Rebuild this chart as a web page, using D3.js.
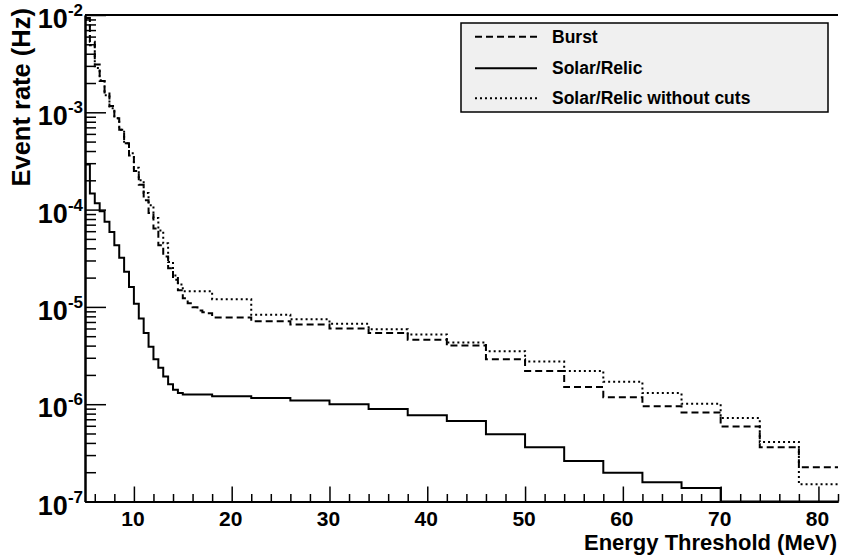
<!DOCTYPE html>
<html><head><meta charset="utf-8">
<script src="https://cdn.jsdelivr.net/npm/d3@7"></script>
<style>body{margin:0;background:#fff}text{font-family:"Liberation Sans",Arial,Helvetica,sans-serif;font-weight:bold;fill:#000}</style>
</head><body><svg id="c" width="841" height="560"></svg>
<script>
// Histogram bin edges (MeV)
const binEdges = [5,5.5,6,6.5,7,7.5,8,8.5,9,9.5,10,10.5,11,11.5,12,12.5,13,13.5,14,14.5,15,15.5,16,16.5,17,17.5,18,
  22,26,30,34,38,42,46,50,54,58,62,66,70,74,78,82];
// Event rates (Hz) per bin
const burst = [9.3e-3,5.3e-3,3.1e-3,2.1e-3,1.6e-3,1.16e-3,8.7e-4,6.6e-4,4.8e-4,3.6e-4,2.5e-4,1.8e-4,1.25e-4,9.2e-5,6.4e-5,4.3e-5,3.3e-5,2.5e-5,1.9e-5,1.48e-5,1.23e-5,1.09e-5,9.9e-6,9.2e-6,8.8e-6,8.6e-6,
  7.8e-6,7.1e-6,6.6e-6,6.0e-6,5.4e-6,4.6e-6,4.0e-6,2.9e-6,2.2e-6,1.5e-6,1.18e-6,9.5e-7,8.2e-7,5.9e-7,3.6e-7,2.25e-7];
const solarRelic = [2.9e-4,1.46e-4,1.16e-4,9.6e-5,7.5e-5,5.9e-5,4.3e-5,3.2e-5,2.3e-5,1.6e-5,1.08e-5,7.6e-6,5.4e-6,3.9e-6,2.9e-6,2.37e-6,1.93e-6,1.6e-6,1.41e-6,1.3e-6,1.26e-6,1.26e-6,1.26e-6,1.26e-6,1.26e-6,1.26e-6,
  1.21e-6,1.16e-6,1.09e-6,1.0e-6,8.9e-7,7.7e-7,6.7e-7,4.9e-7,3.6e-7,2.6e-7,1.97e-7,1.58e-7,1.38e-7,0,0,0];
const solarRelicNoCuts = [8.9e-3,4.9e-3,2.85e-3,2.14e-3,1.5e-3,1.1e-3,8.7e-4,6.6e-4,4.8e-4,3.8e-4,2.7e-4,2.0e-4,1.48e-4,1.11e-4,8.2e-5,6.1e-5,4.5e-5,2.9e-5,2.1e-5,1.7e-5,1.45e-5,1.45e-5,1.45e-5,1.45e-5,1.45e-5,1.45e-5,
  1.2e-5,8.3e-6,7.45e-6,6.7e-6,5.9e-6,5.2e-6,4.3e-6,3.5e-6,2.74e-6,2.19e-6,1.7e-6,1.3e-6,1.01e-6,7.2e-7,4.1e-7,1.5e-7];
const seriesNames = ["Burst","Solar/Relic","Solar/Relic without cuts"];
const xTickValues = [10,20,30,40,50,60,70,80];
const yTickExponents = [-2,-3,-4,-5,-6,-7];
const xTitle = "Energy Threshold (MeV)";
const yTitle = "Event rate (Hz)";

const W = 841, H = 560;
const m = {left:85, right:838, top:15, bottom:501.5};
const x = d3.scaleLinear().domain([5,82]).range([m.left,m.right]);
const y = d3.scaleLog().domain([1e-7,1e-2]).range([m.bottom,m.top]);
const svg = d3.select("#c");
svg.append("rect").attr("width",W).attr("height",H).attr("fill","#fff");
svg.append("clipPath").attr("id","clip").append("rect")
  .attr("x",m.left).attr("y",m.top-1).attr("width",m.right-m.left).attr("height",m.bottom-m.top+1);

function stepPoints(vals){
  const pts = [];
  vals.forEach((v,i)=>{ const vv = Math.max(v,1e-7); pts.push([binEdges[i],vv],[binEdges[i+1],vv]); });
  return pts;
}
const line = d3.line().x(d=>x(d[0])).y(d=>y(d[1]));
const styles = [
  {data:burst, dash:"7,4", w:2},
  {data:solarRelic, dash:null, w:2},
  {data:solarRelicNoCuts, dash:"2,3", w:2}
];
const g = svg.append("g").attr("clip-path","url(#clip)");
styles.forEach(s=>{
  g.append("path").attr("d",line(stepPoints(s.data))).attr("fill","none")
   .attr("stroke","#000").attr("stroke-width",s.w).attr("stroke-dasharray",s.dash);
});

// axes
const decades = yTickExponents.map(e=>Math.pow(10,e));
const yMinor = [];
for (let e=-7;e<-2;e++) for (let k=2;k<=9;k++) yMinor.push(k*Math.pow(10,e));
const xMinor = d3.range(6,83,2).filter(v=>v%10!==0);

function styleAxis(sel){ sel.selectAll("path").attr("stroke","#000").attr("stroke-width",2); sel.selectAll("line").attr("stroke","#000").attr("stroke-width",1.5); sel.selectAll("text").remove(); }
svg.append("g").attr("transform",`translate(${m.left},0)`)
  .call(d3.axisLeft(y).tickValues(decades).tickSize(-21).tickSizeOuter(0).tickFormat("")).call(styleAxis);
svg.append("g").attr("transform",`translate(${m.left},0)`)
  .call(d3.axisLeft(y).tickValues(yMinor).tickSize(-11).tickSizeOuter(0).tickFormat("")).call(styleAxis);
svg.append("g").attr("transform",`translate(0,${m.bottom})`)
  .call(d3.axisBottom(x).tickValues(xTickValues).tickSize(-15).tickSizeOuter(0).tickFormat("")).call(styleAxis);
svg.append("g").attr("transform",`translate(0,${m.bottom})`)
  .call(d3.axisBottom(x).tickValues(xMinor).tickSize(-7.5).tickSizeOuter(0).tickFormat("")).call(styleAxis);
// top frame line
svg.append("line").attr("x1",x(5)).attr("x2",x(82)).attr("y1",y(1e-2)).attr("y2",y(1e-2))
  .attr("stroke","#000").attr("stroke-width",2);

// tick labels
svg.selectAll("text.xl").data(xTickValues).enter().append("text").attr("class","xl")
  .attr("x",d=>x(d)-1).attr("y",526).attr("text-anchor","middle").attr("font-size",21).text(d=>d);
yTickExponents.forEach(e=>{
  const t = svg.append("text").attr("x",83).attr("y",y(Math.pow(10,e))+13).attr("text-anchor","end").attr("font-size",27);
  t.append("tspan").text("10");
  t.append("tspan").attr("font-size",17).attr("dy",-12).text(String(e));
});
// axis titles
svg.append("text").attr("x",837).attr("y",550).attr("text-anchor","end").attr("font-size",22).text(xTitle);
svg.append("text").attr("transform","translate(30,8) rotate(-90)").attr("text-anchor","end").attr("font-size",25.5).text(yTitle);

// legend
const lg = svg.append("g");
lg.append("rect").attr("x",461).attr("y",23).attr("width",367).attr("height",89)
  .attr("fill","#f0f0f0").attr("stroke","#000").attr("stroke-width",1.5);
const rowY = [36.7,68.3,98.3];
seriesNames.forEach((n,i)=>{
  lg.append("line").attr("x1",475).attr("x2",537).attr("y1",rowY[i]).attr("y2",rowY[i])
    .attr("stroke","#000").attr("stroke-width",styles[i].w).attr("stroke-dasharray",styles[i].dash);
  lg.append("text").attr("x",552).attr("y",rowY[i]+6).attr("font-size",17.5).text(n);
});
</script></body></html>
